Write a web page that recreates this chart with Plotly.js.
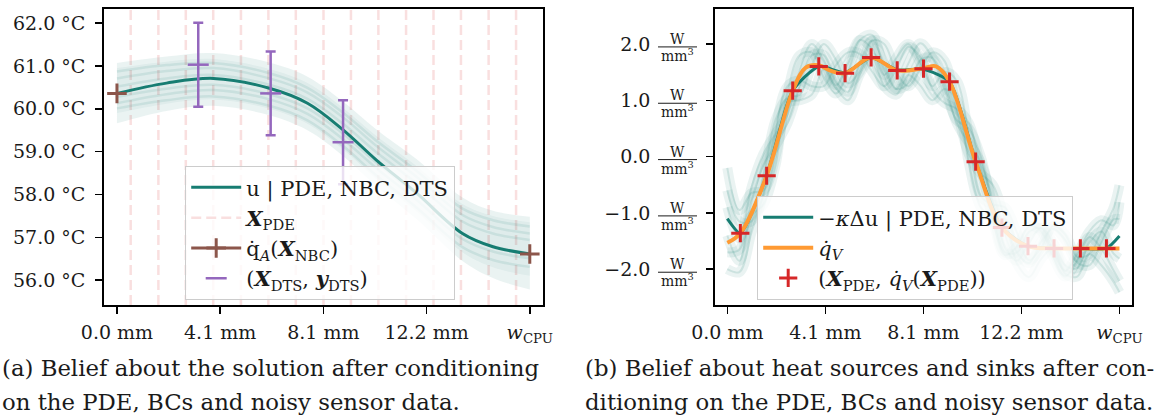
<!DOCTYPE html>
<html>
<head>
<meta charset="utf-8">
<script src="https://cdn.plot.ly/plotly-3.0.1.min.js"></script>
<style>html,body{margin:0;padding:0;background:#fff;}#chart{width:1156px;height:419px;}</style>
</head>
<body>
<div id="chart"></div>
<script>
// ---------- data (mm, °C, W/mm^3) ----------
const xTickVals = [0, 4.0625, 8.125, 12.1875, 16.25];
const xTickText = ['0.0 mm', '4.1 mm', '8.1 mm', '12.2 mm', '<i>w</i><sub>CPU</sub>'];
const yTickVals1 = [56, 57, 58, 59, 60, 61, 62];
const yTickText1 = ['56.0 °C', '57.0 °C', '58.0 °C', '59.0 °C', '60.0 °C', '61.0 °C', '62.0 °C'];
const yTickVals2 = [-2, -1, 0, 1, 2];
const yTickText2 = ['\u22122.0', '\u22121.0', '0.0', '1.0', '2.0'];

// (a) solution belief
const xU = [0, 1.95, 3.8, 6.0, 7.5, 8.9, 10.2, 11.8, 13.6, 14.8, 16.25];
const uMean = [60.36, 60.60, 60.71, 60.48, 60.13, 59.51, 58.81, 58.03, 57.09, 56.78, 56.61];
const uUpper = [61.07, 61.22, 61.30, 61.08, 60.75, 60.17, 59.52, 58.82, 57.93, 57.62, 57.48];
const uLower = [59.66, 59.95, 60.07, 59.85, 59.50, 58.90, 58.20, 57.42, 56.45, 56.05, 55.78];
const uInnerUp = [60.95, 61.10, 61.16, 60.93, 60.60, 60.02, 59.37, 58.66, 57.78, 57.50, 57.35];
const uInnerLo = [59.90, 60.12, 60.22, 60.00, 59.65, 59.05, 58.37, 57.60, 56.65, 56.30, 56.10];
const uS1 = [60.87, 61.02, 61.07, 60.83, 60.49, 59.91, 59.26, 58.55, 57.67, 57.40, 57.25];
const uS2 = [60.71, 60.88, 60.95, 60.71, 60.38, 59.80, 59.14, 58.41, 57.52, 57.24, 57.09];
const uS3 = [60.52, 60.71, 60.79, 60.56, 60.23, 59.65, 58.99, 58.26, 57.37, 57.09, 56.94];
const uS4 = [60.28, 60.47, 60.56, 60.34, 60.01, 59.42, 58.75, 58.00, 57.09, 56.79, 56.63];
const uS5 = [60.13, 60.34, 60.44, 60.22, 59.88, 59.29, 58.62, 57.87, 56.96, 56.67, 56.51];
const uS6 = [60.01, 60.20, 60.29, 60.07, 59.73, 59.13, 58.45, 57.69, 56.77, 56.47, 56.31];
const xPDE = [0.54, 1.63, 2.71, 3.79, 4.88, 5.96, 7.04, 8.13, 9.21, 10.29, 11.38, 12.46, 13.54, 14.63, 15.71];
const xNBC = [0, null, 16.25];
const qNBC = [60.36, null, 56.61];
const xDTS = [3.20, 6.05, 8.90];
const yDTS = [61.03, 60.36, 59.22];
const eDTS = [0.98, 0.98, 0.98];

// (b) source belief
const xQ = [0, 0.5, 1.0, 1.5, 2.0, 2.5, 3.0, 3.5, 4.0, 4.5, 5.0, 5.5, 6.0, 6.5, 7.0, 7.5, 8.0, 8.5, 9.0, 9.5, 10.0, 10.5, 11.0, 11.5, 12.0, 12.5, 13.0, 13.5, 14.0, 14.5, 15.0, 15.5, 16.0, 16.25];
const qS1 = [-0.60,-1.15,-1.15,-0.35,0.65,1.05,1.10,1.60,2.00,1.72,1.30,1.52,2.06,2.00,1.50,1.25,1.56,1.85,1.70,0.85,0.05,-0.30,-0.50,-1.10,-1.70,-1.89,-1.52,-1.28,-1.48,-1.88,-1.93,-1.53,-1.12,-1.11];
const qS2 = [-1.70,-1.65,-0.80,-0.15,0.20,0.60,1.25,1.80,1.80,1.32,1.15,1.67,2.06,1.65,1.20,1.30,1.71,1.75,1.30,0.60,0.25,-0.10,-0.80,-1.60,-1.85,-1.54,-1.27,-1.53,-1.93,-1.98,-1.53,-1.33,-1.72,-1.81];
const qS3 = [-0.20,-0.95,-0.65,-0.60,0.00,1.15,1.80,1.85,1.40,1.12,1.50,2.07,2.16,1.55,1.20,1.65,2.01,1.75,1.20,0.65,0.50,0.00,-0.90,-1.70,-1.70,-1.34,-1.27,-1.68,-2.03,-1.73,-1.33,-1.13,-1.22,-0.81];
const qS4 = [-2.00,-2.05,-1.35,-0.65,0.50,1.25,1.35,1.25,1.25,1.62,1.85,1.82,1.51,1.25,1.55,1.95,1.76,1.20,0.95,0.85,0.60,-0.20,-1.10,-1.75,-1.60,-1.24,-1.32,-1.78,-2.13,-1.83,-1.43,-1.63,-2.02,-2.21];
const qS5 = [-0.90,-1.45,-0.55,0.05,0.40,0.75,1.55,2.00,1.70,1.27,1.65,2.07,1.91,1.45,1.75,2.00,1.66,1.25,1.50,1.35,0.40,-0.70,-0.85,-0.90,-1.35,-1.84,-1.62,-1.23,-1.38,-1.78,-1.73,-1.33,-0.92,-0.51];
const qS6 = [-1.40,-1.85,-1.05,-0.85,-0.15,0.95,1.00,1.10,1.55,1.22,1.00,1.47,1.76,1.25,1.10,1.45,1.26,1.00,1.20,1.00,-0.10,-0.90,-1.10,-1.20,-1.90,-2.14,-1.82,-1.63,-2.08,-2.13,-1.73,-1.93,-2.22,-2.41];
const xLapMean = [0, 0.54, 1.63, 2.71, 3.79, 4.88, 5.96, 7.04, 8.13, 9.21, 10.29, 11.38, 12.46, 13.54, 14.63, 15.71, 16.25];
const lapMean = [-1.10, -1.36, -0.34, 1.17, 1.60, 1.49, 1.76, 1.54, 1.55, 1.33, -0.09, -1.26, -1.59, -1.63, -1.63, -1.63, -1.41];
const xQdot = [0, 0.54, 1.63, 2.71, 3.25, 3.79, 4.3, 4.88, 5.96, 7.04, 8.13, 8.65, 9.21, 10.29, 11.38, 12.46, 13.54, 14.63, 15.71, 16.25];
const qDot = [-1.53, -1.36, -0.34, 1.17, 1.58, 1.62, 1.52, 1.48, 1.76, 1.53, 1.57, 1.60, 1.33, -0.09, -1.26, -1.59, -1.63, -1.63, -1.63, -1.63];
const qPDE = [-1.36, -0.34, 1.17, 1.60, 1.48, 1.76, 1.53, 1.56, 1.33, -0.09, -1.26, -1.59, -1.63, -1.63, -1.63];

// ---------- style ----------
const FONT = 'DejaVu Serif, serif';
const TXT = '#1a1a1a';
const TEAL = '#177d72';
const ORANGE = '#ff9a33';
const RED = '#d62728';
const BROWN = '#8c564b';
const PURPLE = '#9467bd';
const PINK = 'rgba(232,140,140,0.28)';
const Y1RANGE = [55.42, 62.33];
const Y2RANGE = [-2.635, 2.62];
const XRANGE = [-0.51, 16.77];

const traces = [];

// X_PDE vertical dashed lines (subplot a)
const vx = [], vy = [];
xPDE.forEach(v => { vx.push(v, v, null); vy.push(Y1RANGE[0], Y1RANGE[1], null); });
traces.push({x: vx, y: vy, mode: 'lines', xaxis: 'x', yaxis: 'y',
  line: {color: PINK, width: 2.5, dash: '10px,5px'},
  name: '<b><i>X</i></b><sub>PDE</sub>', legend: 'legend', legendgroup: 'g2', legendrank: 2, hoverinfo: 'skip'});

// bands
function band(up, lo, col) {
  traces.push({x: xU, y: lo, mode: 'lines', line: {width: 0, shape: 'spline'}, showlegend: false, xaxis: 'x', yaxis: 'y', hoverinfo: 'skip'});
  traces.push({x: xU, y: up, mode: 'lines', line: {width: 0, shape: 'spline'}, fill: 'tonexty', fillcolor: col, showlegend: false, xaxis: 'x', yaxis: 'y', hoverinfo: 'skip'});
}
band(uUpper, uLower, 'rgba(23,125,114,0.09)');
band(uInnerUp, uInnerLo, 'rgba(23,125,114,0.05)');
[uS1, uS2, uS3, uS4, uS5, uS6].forEach(s => {
  traces.push({x: xU, y: s, mode: 'lines', line: {color: 'rgba(23,125,114,0.11)', width: 2.5, shape: 'spline'},
    showlegend: false, xaxis: 'x', yaxis: 'y', hoverinfo: 'skip'});
});
traces.push({x: xU, y: uMean, mode: 'lines', line: {color: TEAL, width: 3, shape: 'spline'},
  name: 'u | PDE, NBC, DTS', legend: 'legend', legendgroup: 'g1', legendrank: 1, xaxis: 'x', yaxis: 'y'});
traces.push({x: xNBC, y: qNBC, mode: 'lines+markers', connectgaps: false,
  line: {color: BROWN, width: 3},
  marker: {symbol: 'cross-thin', size: 14, line: {color: BROWN, width: 3}},
  name: 'q\u0307<sub><i>A</i></sub>(<b><i>X</i></b><sub>NBC</sub>)', legend: 'legend', legendgroup: 'g3', legendrank: 3, xaxis: 'x', yaxis: 'y'});
traces.push({x: xDTS, y: yDTS, mode: 'markers',
  marker: {symbol: 'line-ew', size: 15, color: PURPLE, line: {color: PURPLE, width: 2.5}},
  error_y: {type: 'data', array: eDTS, color: PURPLE, thickness: 2.5, width: 5},
  name: '(<b><i>X</i></b><sub>DTS</sub>, <b><i>y</i></b><sub>DTS</sub>)', legend: 'legend', legendgroup: 'g4', legendrank: 4, xaxis: 'x', yaxis: 'y'});

// subplot b samples
[qS1, qS2, qS3, qS4, qS5, qS6].forEach(s => {
  traces.push({x: xQ, y: s, mode: 'lines', line: {color: 'rgba(23,125,114,0.09)', width: 10, shape: 'spline'},
    showlegend: false, xaxis: 'x2', yaxis: 'y2', hoverinfo: 'skip'});
});
[qS1, qS2, qS3, qS4, qS5, qS6].forEach(s => {
  traces.push({x: xQ, y: s, mode: 'lines', line: {color: 'rgba(23,125,114,0.14)', width: 2, shape: 'spline'},
    showlegend: false, xaxis: 'x2', yaxis: 'y2', hoverinfo: 'skip'});
});
traces.push({x: xLapMean, y: lapMean, mode: 'lines', line: {color: TEAL, width: 3, shape: 'spline', smoothing: 0.6},
  name: '\u2212<i>\u03ba</i>\u0394u | PDE, NBC, DTS', legend: 'legend2', legendgroup: 'h1', legendrank: 1, xaxis: 'x2', yaxis: 'y2'});
traces.push({x: xQdot, y: qDot, mode: 'lines', line: {color: ORANGE, width: 4, shape: 'spline'},
  name: '<i>q\u0307</i><sub><i>V</i></sub>', legend: 'legend2', legendgroup: 'h2', legendrank: 2, xaxis: 'x2', yaxis: 'y2'});
traces.push({x: xPDE, y: qPDE, mode: 'markers',
  marker: {symbol: 'cross-thin', size: 13, color: RED, line: {color: RED, width: 3}},
  name: '(<b><i>X</i></b><sub>PDE</sub>, <i>q\u0307</i><sub><i>V</i></sub>(<b><i>X</i></b><sub>PDE</sub>))', legend: 'legend2', legendgroup: 'h3', legendrank: 3, xaxis: 'x2', yaxis: 'y2'});

// ---------- layout ----------
const W = 1156, H = 419;
const yDom = [1 - 305 / H, 1 - 9 / H];
const tickFont = {family: FONT, size: 19, color: TXT};
function xAxis(dom, anchor) {
  return {domain: dom, anchor: anchor, range: XRANGE, tickvals: xTickVals, ticktext: xTickText,
    ticks: 'outside', ticklen: 7, tickwidth: 1.5, tickcolor: '#000', showline: true, mirror: true,
    linecolor: '#000', linewidth: 1.8, showgrid: false, zeroline: false, tickfont: tickFont, ticklabelstandoff: 2, fixedrange: true};
}
const annotations = [];
const shapes = [];
yTickVals2.forEach(v => {
  annotations.push({xref: 'paper', yref: 'y2', x: 677 / W, y: v, yshift: 5, text: 'W', showarrow: false,
    xanchor: 'center', yanchor: 'middle', font: {family: FONT, size: 14, color: TXT}});
  annotations.push({xref: 'paper', yref: 'y2', x: 677 / W, y: v, yshift: -11, text: 'mm<sup>3</sup>', showarrow: false,
    xanchor: 'center', yanchor: 'middle', font: {family: FONT, size: 14, color: TXT}});
  shapes.push({type: 'line', xref: 'paper', yref: 'y2', ysizemode: 'pixel', yanchor: v, x0: 658 / W, x1: 697 / W, y0: -3, y1: -3,
    line: {color: TXT, width: 1}});
});
const capFont = {family: FONT, size: 22.8, color: TXT};
annotations.push({xref: 'paper', yref: 'paper', x: 0.0, y: 1 - 368 / H, xanchor: 'left', yanchor: 'middle', showarrow: false,
  text: '(a) Belief about the solution after conditioning', font: capFont});
annotations.push({xref: 'paper', yref: 'paper', x: 0.0, y: 1 - 402 / H, xanchor: 'left', yanchor: 'middle', showarrow: false,
  text: 'on the PDE, BCs and noisy sensor data.', font: capFont});
annotations.push({xref: 'paper', yref: 'paper', x: 583 / W, y: 1 - 368 / H, xanchor: 'left', yanchor: 'middle', showarrow: false,
  text: '(b) Belief about heat sources and sinks after con-', font: capFont});
annotations.push({xref: 'paper', yref: 'paper', x: 583 / W, y: 1 - 402 / H, xanchor: 'left', yanchor: 'middle', showarrow: false,
  text: 'ditioning on the PDE, BCs and noisy sensor data.', font: capFont});

const legendBase = {xanchor: 'left', yanchor: 'top', bgcolor: 'rgba(255,255,255,0.8)', bordercolor: '#cccccc', borderwidth: 1.2,
  font: {family: FONT, size: 21, color: TXT}, itemwidth: 50, tracegroupgap: 0, traceorder: 'grouped', itemclick: false, itemdoubleclick: false};

const layout = {
  width: W, height: H, margin: {l: 0, r: 0, t: 0, b: 0}, paper_bgcolor: '#fff', plot_bgcolor: '#fff',
  showlegend: true,
  xaxis: xAxis([104 / W, 543 / W], 'y'),
  yaxis: {domain: yDom, anchor: 'x', range: Y1RANGE, tickvals: yTickVals1, ticktext: yTickText1,
    ticks: 'outside', ticklen: 7, tickwidth: 1.5, tickcolor: '#000', showline: true, mirror: true,
    linecolor: '#000', linewidth: 1.8, showgrid: false, zeroline: false, tickfont: tickFont, ticklabelstandoff: 6, fixedrange: true},
  xaxis2: xAxis([715 / W, 1132 / W], 'y2'),
  yaxis2: {domain: yDom, anchor: 'x2', range: Y2RANGE, tickvals: yTickVals2, ticktext: yTickText2,
    ticks: 'outside', ticklen: 7, tickwidth: 1.5, tickcolor: '#000', showline: true, mirror: true,
    linecolor: '#000', linewidth: 1.8, showgrid: false, zeroline: false, tickfont: tickFont, ticklabelstandoff: 52, fixedrange: true},
  legend: Object.assign({}, legendBase, {x: 185 / W, y: 1 - 166 / H}),
  legend2: Object.assign({}, legendBase, {x: 757 / W, y: 1 - 196 / H}),
  annotations: annotations,
  shapes: shapes
};

Plotly.newPlot('chart', traces, layout, {staticPlot: true, displayModeBar: false});
</script>
</body>
</html>
